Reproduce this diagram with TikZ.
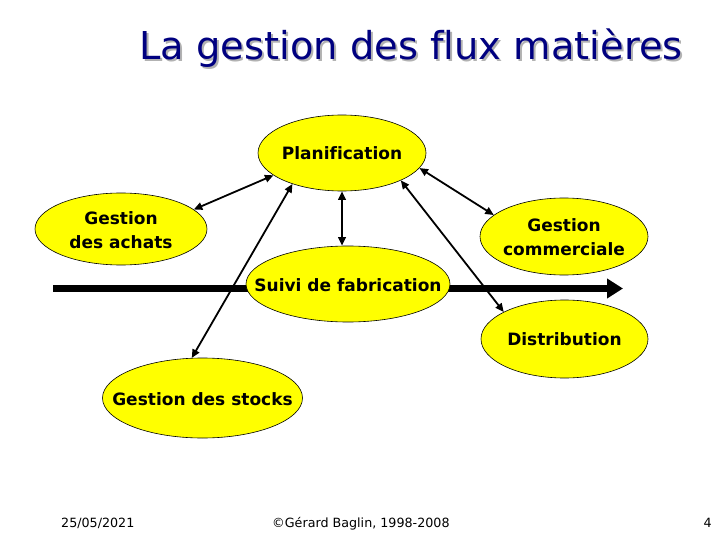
\documentclass[tikz,border=0pt]{standalone}
\usepackage{fontspec}
\setmainfont[Ligatures=CommonOff]{DejaVu Sans}
\usetikzlibrary{shapes.geometric,arrows.meta}
\definecolor{titleblue}{RGB}{0,0,128}
\definecolor{ellyellow}{RGB}{255,255,0}
\begin{document}
\begin{tikzpicture}[x=1pt,y=-1pt,
  elly/.style={ellipse, draw=black, line width=0.6pt, fill=ellyellow, inner sep=0pt},
  lbl/.style={font=\bfseries\fontsize{17}{24}\selectfont, align=center, inner sep=0pt},
  link/.style={line width=1.8pt, {Triangle[length=8.5pt,width=7.5pt]}-{Triangle[length=8.5pt,width=7.5pt]}},
  flow/.style={line width=7pt, -{Triangle[length=16pt,width=19pt]}},
  foot/.style={font=\fontsize{12.7}{15}\selectfont, inner sep=0pt},
  titlefont/.style={font=\fontsize{38.4}{45}\selectfont, anchor=base west, inner sep=0pt}]
\useasboundingbox[fill=white] (0,0) rectangle (720,540);

% title
\node[titlefont, text=black!30] (titleshadow) at (141,62) {La gestion des flux matières};
\node[titlefont, text=titleblue] (title) at (139,60) {La gestion des flux matières};

% main flow
\coordinate (flowstart) at (53,288.5);
\coordinate (flowend) at (623,288.5);
\draw[flow] (flowstart) -- (flowend);

% ellipses
\node[elly, minimum width=168pt, minimum height=76pt] (plan) at (342,153) {};
\node[elly, minimum width=172pt, minimum height=72pt] (achats) at (121,229) {};
\node[elly, minimum width=168pt, minimum height=77pt] (comm) at (564,236.5) {};
\node[elly, minimum width=204pt, minimum height=76pt] (suivi) at (348,284) {};
\node[elly, minimum width=167pt, minimum height=78pt] (dist) at (564.5,339) {};
\node[elly, minimum width=200pt, minimum height=80pt] (stocks) at (202.5,398) {};

% labels
\node[lbl] (plantext) at (plan) {Planification};
\node[lbl] (achatstext) at (121,230.5) {Gestion\\des achats};
\node[lbl] (commtext) at (564,237) {Gestion\\commerciale};
\node[lbl] (suivitext) at (348,285) {Suivi de fabrication};
\node[lbl] (disttext) at (564.5,339) {Distribution};
\node[lbl] (stockstext) at (202.5,399) {Gestion des stocks};

% links
\draw[link] (plan.198) -- (achats.15);
\draw[link] (plan.349) -- (comm.163);
\draw[link] (plan.south) -- (plan.south |- suivi.north);
\draw[link] (plan.212) -- (stocks.105);
\draw[link] (plan.335) -- (dist.156);

% footer
\node[foot, anchor=base west] (date) at (61,527) {25/05/2021};
\node[foot, anchor=base west] (copy) at (272,527) {©Gérard Baglin, 1998-2008};
\node[foot, anchor=base east] (page) at (712,527) {4};
\end{tikzpicture}
\end{document}
